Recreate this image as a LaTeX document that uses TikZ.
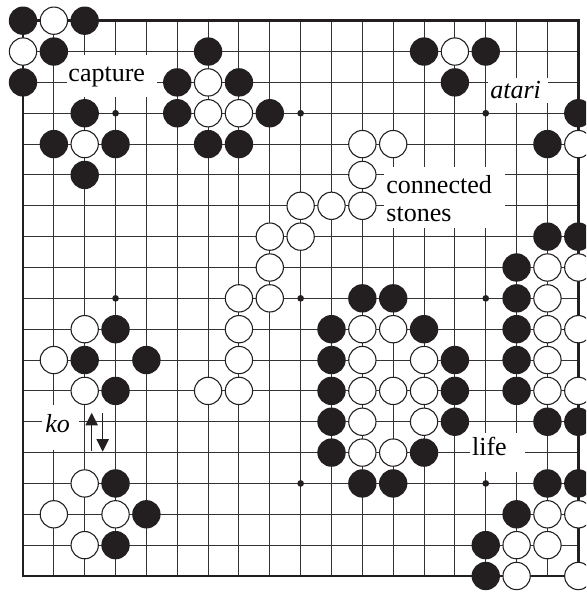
\documentclass[tikz,border=0pt]{standalone}
\usepackage{fontspec}
\setmainfont{Liberation Serif}
\usetikzlibrary{arrows.meta}
\definecolor{stoneblack}{RGB}{35,31,32}
\newcommand{\lblfont}{\fontsize{14.4pt}{15.7pt}\selectfont}

\begin{document}
\begin{tikzpicture}[x=0.6cm, y=0.6cm,
  gridl/.style={line width=0.55pt, draw=black!80},
  board/.style={line width=1.4pt, draw=stoneblack},
  bstone/.style={circle, inner sep=0pt, minimum size=15.7pt, fill=stoneblack},
  wstone/.style={circle, inner sep=0pt, minimum size=15.1pt, fill=white, draw=stoneblack, line width=0.6pt},
  hoshi/.style={circle, inner sep=0pt, minimum size=3.7pt, fill=stoneblack},
  lbl/.style={fill=white, inner ysep=0pt, anchor=base west, align=left, font=\lblfont},
  koarrow/.style={-{Triangle[length=7pt 0, width=6.8pt 0]}, line width=0.85pt, draw=stoneblack}]
  \clip (-0.7455,-0.551) rectangle (18.25,18.671);
  % board
  \foreach \i in {0,...,18} {
    \draw[gridl] (\i,0) -- (\i,18);
    \draw[gridl] (0,\i) -- (18,\i);
  }
  \draw[board] (0,0) rectangle (18,18);
  % labels (white boxes cut the lines)
  \node[lbl, inner xsep=0.72pt, text width=48.4pt, text height=14.8pt, text depth=8.5pt] (capture) at (1.42,16.02) {capture};
  \node[lbl, inner xsep=1.1pt, text width=31pt, text height=11.1pt, text depth=2.8pt] (atari) at (15.07,15.49) {\textit{atari}};
  \node[lbl, inner xsep=1.5pt, text width=64.4pt, text height=14.7pt, text depth=19.4pt] (connected) at (11.68,12.41) {connected\\stones};
  \node[lbl, inner xsep=1.8pt, text width=16.6pt, text height=15.3pt, text depth=9.6pt] (ko) at (0.61,4.65) {\textit{ko}};
  \node[lbl, inner xsep=0.94pt, text width=28.6pt, text height=12.2pt, text depth=9.2pt] (life) at (14.49,3.92) {life};
  \foreach \c in {3,9,15}
    \foreach \r in {3,9,15}
      \node[hoshi] (h\c-\r) at (\c,\r) {};
  % stones, given as column/row from the top left
  \foreach \c/\r in {0/0,2/0,1/1,0/2, 2/3,1/4,3/4,2/5,
      6/1,5/2,7/2,5/3,8/3,6/4,7/4, 13/1,15/1,14/2, 18/3,17/4,
      3/10,2/11,4/11,3/12, 3/15,4/16,3/17,
      11/9,12/9,10/10,13/10,10/11,14/11,10/12,14/12,10/13,14/13,10/14,13/14,11/15,12/15,
      17/7,18/7,16/8,16/9,16/10,16/11,16/12,17/13,18/13,
      17/15,18/15,16/16,15/17,15/18}
    \node[bstone] (b\c-\r) at (\c,18-\r) {};
  \foreach \c/\r in {1/0,0/1,2/4, 6/2,6/3,7/3, 14/1,18/4,
      11/4,12/4,11/5,9/6,10/6,11/6,8/7,9/7,8/8,7/9,8/9,7/10,7/11,6/12,7/12,
      2/10,1/11,2/12, 2/15,1/16,3/16,2/17,
      11/10,12/10,11/11,13/11,11/12,12/12,13/12,11/13,13/13,11/14,12/14,
      17/8,18/8,17/9,17/10,18/10,17/11,17/12,18/12,
      17/16,18/16,16/17,17/17,16/18,18/18}
    \node[wstone] (w\c-\r) at (\c,18-\r) {};
  % ko arrows
  \coordinate (koupS) at (2.227,4.06);
  \coordinate (koupE) at (2.227,5.29);
  \coordinate (kodnS) at (2.583,5.28);
  \coordinate (kodnE) at (2.583,4.03);
  \draw[koarrow] (koupS) -- (koupE);
  \draw[koarrow] (kodnS) -- (kodnE);
\end{tikzpicture}
\end{document}
